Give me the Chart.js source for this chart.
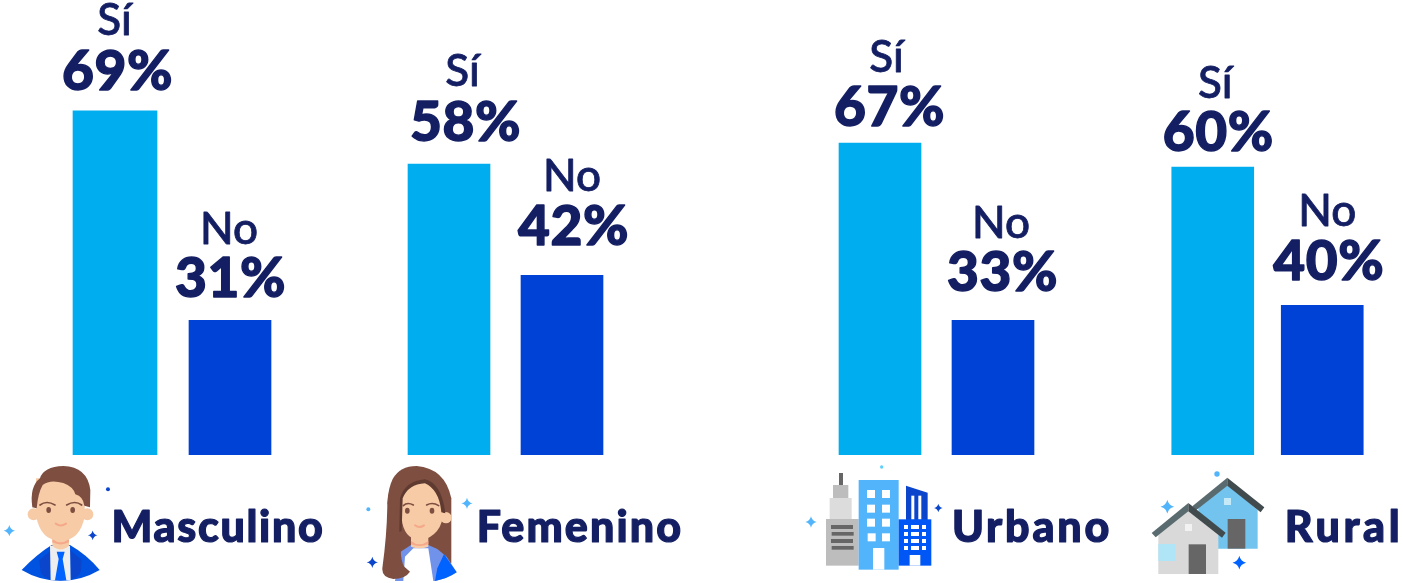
<!DOCTYPE html>
<html lang="es">
<head>
<meta charset="utf-8">
<title>Sí / No</title>
<script src="https://cdn.jsdelivr.net/npm/chart.js@4"></script>
<style>
    html, body { margin: 0; padding: 0; background: #fff; }
    #lienzo { position: relative; width: 1403px; height: 583px; overflow: hidden; }
    #lienzo canvas, #iconos { position: absolute; left: 0; top: 0; }
</style>
</head>
<body>
<div id="lienzo">
<svg id="iconos" width="1403" height="583" viewBox="0 0 1403 583">
    <defs>
        <path id="st" d="M0-17Q3-3 17 0Q3 3 0 17Q-3 3-17 0Q-3-3 0-17Z"/>
    </defs>
    <!-- hombre -->
    <g transform="translate(0,455) scale(.3333)">
        <path d="M65 345Q110 298 155 270L210 270Q262 300 299 345Q245 377 182 378Q118 377 65 345Z" fill="#0052e0"/>
        <path d="M118 315L155 285L150 372Q125 365 122 350ZM245 315L210 285L214 372Q238 365 242 350Z" fill="#0a45cc"/>
        <path d="M150 272L210 272L212 376L152 376Z" fill="#eeeeee"/>
        <path d="M170 290L194 290L188 312L199 376L165 376L176 312Z" fill="#0062ff"/>
        <path d="M157 235L207 235L207 272Q182 295 157 272Z" fill="#f6cba6"/>
        <path d="M157 252Q182 272 207 252L207 262Q182 275 157 262Z" fill="#f5a98a"/>
        <circle cx="101" cy="178" r="18" fill="#f6cba6"/>
        <circle cx="262" cy="178" r="18" fill="#f6cba6"/>
        <path d="M108 70L255 70L254 185Q240 256 182 258Q122 256 109 185Z" fill="#f6cba6"/>
        <path d="M97 157Q88 95 120 70Q130 35 190 33Q262 35 271 105L270 157L253 152Q250 125 226 118Q220 95 190 84Q150 72 128 90Q114 115 110 160Z" fill="#7e4e40"/>
        <path d="M120 150Q140 135 165 150M200 150Q225 135 245 150" fill="none" stroke="#7e4e40" stroke-width="5" stroke-linecap="round"/>
        <ellipse cx="146" cy="165" rx="7" ry="9" fill="#7e4e40"/>
        <ellipse cx="218" cy="165" rx="7" ry="9" fill="#7e4e40"/>
        <path d="M167 206Q182 217 198 206" fill="none" stroke="#f5a98a" stroke-width="6" stroke-linecap="round"/>
        <circle cx="324" cy="103" r="6" fill="#0a45cc"/>
        <use href="#st" transform="translate(28,227)" fill="#52b4fa"/>
        <use href="#st" transform="translate(278,241) scale(.85)" fill="#0a45cc"/>
    </g>
    <!-- mujer -->
    <g transform="translate(350,455) scale(.3333)">
        <path d="M128 72Q150 33 200 33Q285 40 304 130L304 325L150 325L112 140Q115 100 128 72Z" fill="#7e4e40"/>
        <path d="M152 290L183 270L235 270L262 282L290 305L320 352Q290 372 255 378L135 378Z" fill="#7092ea"/>
        <path d="M262 340L282 298L320 352Q290 372 255 378Z" fill="#0062ff"/>
        <path d="M165 305L190 280L235 280L250 378L160 378Z" fill="#fff"/>
        <path d="M112 140Q112 230 97 340Q95 368 130 372Q165 372 180 350L163 335Q152 320 152 280L155 200Z" fill="#7e4e40"/>
        <path d="M183 245L235 245L235 275Q208 285 183 275Z" fill="#f6cba6"/>
        <path d="M183 258Q208 278 235 258L235 268Q208 278 183 268Z" fill="#f5a98a"/>
        <circle cx="288" cy="188" r="17" fill="#f6cba6"/>
        <path d="M155 120Q175 85 225 83Q270 95 280 170Q278 240 210 258Q160 250 155 190Z" fill="#f6cba6"/>
        <path d="M148 230L150 130Q165 78 225 73Q275 85 286 175L274 172Q268 105 225 85Q175 88 158 130L155 228Z" fill="#5f3a30"/>
        <path d="M160 152Q172 140 190 150M230 150Q248 140 266 152" fill="none" stroke="#7e4e40" stroke-width="5" stroke-linecap="round"/>
        <ellipse cx="172" cy="167" rx="7" ry="9" fill="#7e4e40"/>
        <ellipse cx="246" cy="167" rx="7" ry="9" fill="#7e4e40"/>
        <path d="M195 211Q208 221 222 211" fill="none" stroke="#f5a98a" stroke-width="6" stroke-linecap="round"/>
        <circle cx="55" cy="163" r="6" fill="#52b4fa"/>
        <use href="#st" transform="translate(351,145)" fill="#52b4fa"/>
        <use href="#st" transform="translate(67,322)" fill="#0a45cc"/>
    </g>
    <!-- edificios -->
    <g transform="translate(795,455) scale(.3333)">
        <rect x="132" y="54" width="12" height="40" fill="#666"/>
        <rect x="114" y="90" width="46" height="42" fill="#bdbdbd"/>
        <rect x="104" y="129" width="66" height="66" fill="#dcdcdc"/>
        <rect x="93" y="192" width="98" height="140" fill="#bdbdbd"/>
        <g fill="#666">
            <rect x="108" y="210" width="66" height="12"/>
            <rect x="110" y="231" width="66" height="11"/>
            <rect x="108" y="252" width="66" height="12"/>
            <rect x="110" y="273" width="66" height="11"/>
        </g>
        <path d="M333 92L398 113L398 195L333 195Z" fill="#0a45cc"/>
        <rect x="349" y="122" width="9" height="72" fill="#fff"/>
        <rect x="370" y="122" width="9" height="72" fill="#fff"/>
        <rect x="191" y="75" width="120" height="269" fill="#52b4fa"/>
        <g fill="#fff">
            <rect x="216" y="105" width="24" height="24"/><rect x="261" y="105" width="24" height="24"/>
            <rect x="216" y="149" width="24" height="24"/><rect x="261" y="149" width="24" height="24"/>
            <rect x="216" y="191" width="24" height="24"/><rect x="261" y="191" width="24" height="24"/>
            <rect x="218" y="235" width="24" height="24"/><rect x="261" y="235" width="24" height="24"/>
            <rect x="234" y="279" width="34" height="65"/>
        </g>
        <rect x="311" y="193" width="98" height="139" fill="#0057f5"/>
        <g fill="#fff">
            <rect x="327" y="210" width="12" height="12"/><rect x="348" y="210" width="24" height="12"/><rect x="381" y="210" width="12" height="12"/>
            <rect x="327" y="231" width="12" height="12"/><rect x="348" y="231" width="24" height="12"/><rect x="381" y="231" width="12" height="12"/>
            <rect x="327" y="252" width="12" height="12"/><rect x="348" y="252" width="24" height="12"/><rect x="381" y="252" width="12" height="12"/>
            <rect x="327" y="273" width="12" height="12"/><rect x="348" y="273" width="24" height="12"/><rect x="381" y="273" width="12" height="12"/>
            <rect x="344" y="300" width="32" height="32"/>
        </g>
        <circle cx="260" cy="36" r="5" fill="#5fd0fa"/>
        <use href="#st" transform="translate(430,159) scale(.75)" fill="#0a45cc"/>
        <use href="#st" transform="translate(48,201)" fill="#52b4fa"/>
    </g>
    <!-- casas -->
    <g transform="translate(1140,455) scale(.3333)">
        <path d="M175 150L262 88L353 165L353 281L175 281Z" fill="#72c4ee"/>
        <rect x="252" y="129" width="21" height="21" fill="#c5e9f7"/>
        <rect x="263" y="192" width="53" height="89" fill="#666"/>
        <path d="M157 154L262 68L262 92L168 166Z" fill="#5a6b70"/>
        <path d="M262 68L373 157L362 172L262 92Z" fill="#414b4d"/>
        <path d="M55 235L145 165L235 235L235 357L55 357Z" fill="#d9d9d9"/>
        <rect x="135" y="207" width="21" height="21" fill="#f2f2f2"/>
        <rect x="55" y="267" width="51" height="51" fill="#b0e4f7"/>
        <rect x="146" y="268" width="52" height="89" fill="#666"/>
        <path d="M35 234L145 144L145 169L47 247Z" fill="#5a6b70"/>
        <path d="M145 144L257 233L246 248L145 169Z" fill="#414b4d"/>
        <circle cx="231" cy="57" r="8" fill="#52b4fa"/>
        <use href="#st" transform="translate(82,155) scale(1.2)" fill="#52b4fa"/>
        <use href="#st" transform="translate(298,323) scale(1.2)" fill="#0062ff"/>
    </g>
</svg>
<canvas id="g0" width="1403" height="583"></canvas>
<canvas id="g1" width="1403" height="583"></canvas>
<canvas id="g2" width="1403" height="583"></canvas>
<canvas id="g3" width="1403" height="583"></canvas>
</div>
<script>
const grupos = ['Masculino', 'Femenino', 'Urbano', 'Rural'];
const respuestas = ['Sí', 'No'];

// porcentajes que dice el rotulo
const porcentajeSi = [69, 58, 67, 60];
const porcentajeNo = [31, 42, 33, 40];

// altura de las barras: el original no las dibuja proporcionales al rotulo
const alturaSi = [69, 58.3, 62.5, 57.7];
const alturaNo = [27, 36, 27, 30];

const COLOR_SI = '#00aeef';
const COLOR_NO = '#0041d6';
const COLOR_TEXTO = '#141f63';

// donde cae cada grupo en la pagina y ajuste de sus rotulos
const disposicion = [
    { izq: 57.5, der: 287.5, ancho: [84, 82], dx: [1, -1], dyPct: [-21, -23], dyRes: [-76, -76], nombreX: 218, espacio: '1.7px' },
    { izq: 392.5, der: 618.5, ancho: [82, 82], dx: [15, 10], dyPct: [-23, -30], dyRes: [-78, -84], nombreX: 580, espacio: '2.1px' },
    { izq: 823.5, der: 1049.5, ancho: [82, 82], dx: [8, 8], dyPct: [-17, -29], dyRes: [-71, -82], nombreX: 1032, espacio: '2.8px' },
    { izq: 1158, der: 1377, ancho: [82, 82], dx: [4, 5], dyPct: [-16, -25], dyRes: [-69, -79], nombreX: 1344, espacio: '3.6px' }
];

function texto(ctx, cadena, x, y, fuente, grosor, espacio) {
    ctx.font = fuente;
    ctx.letterSpacing = espacio;
    ctx.lineWidth = grosor;
    ctx.fillText(cadena, x, y);
    ctx.strokeText(cadena, x, y);
}

const rotulos = {
    id: 'rotulos',
    afterDatasetsDraw(chart, args, opts) {
        const ctx = chart.ctx;
        const d = opts.disp;
        ctx.save();
        ctx.fillStyle = COLOR_TEXTO;
        ctx.strokeStyle = COLOR_TEXTO;
        ctx.lineJoin = 'round';
        ctx.textAlign = 'center';
        ctx.textBaseline = 'alphabetic';
        chart.data.datasets.forEach((ds, i) => {
            const barra = chart.getDatasetMeta(i).data[i];
            const x = barra.x + d.dx[i];
            texto(ctx, respuestas[i], x - (i === 0 ? 1.5 : 0), barra.y + d.dyRes[i], '500 44px Lato', 0.8, '0px');
            texto(ctx, opts.pct[i] + '%', x + 1.5, barra.y + d.dyPct[i], '900 55px Lato', 1.4, '0.5px');
        });
        texto(ctx, opts.nombre, d.nombreX, 542, '900 43px Lato', 1.2, d.espacio);
        ctx.restore();
    }
};

grupos.forEach((nombre, g) => {
    const d = disposicion[g];
    new Chart(document.getElementById('g' + g), {
        type: 'bar',
        plugins: [rotulos],
        data: {
            labels: respuestas,
            datasets: [
                { label: 'Sí', data: [alturaSi[g], null], backgroundColor: COLOR_SI, barThickness: d.ancho[0] },
                { label: 'No', data: [null, alturaNo[g]], backgroundColor: COLOR_NO, barThickness: d.ancho[1] }
            ]
        },
        options: {
            responsive: false,
            animation: false,
            layout: { padding: { left: d.izq, right: 1403 - d.der, top: 0, bottom: 128 } },
            scales: {
                x: { display: false, stacked: true },
                y: { display: false, stacked: true, min: 0, max: 91.2 }
            },
            plugins: {
                legend: { display: false },
                tooltip: { enabled: false },
                rotulos: { disp: d, pct: [porcentajeSi[g], porcentajeNo[g]], nombre }
            }
        }
    });
});
</script>
</body>
</html>
